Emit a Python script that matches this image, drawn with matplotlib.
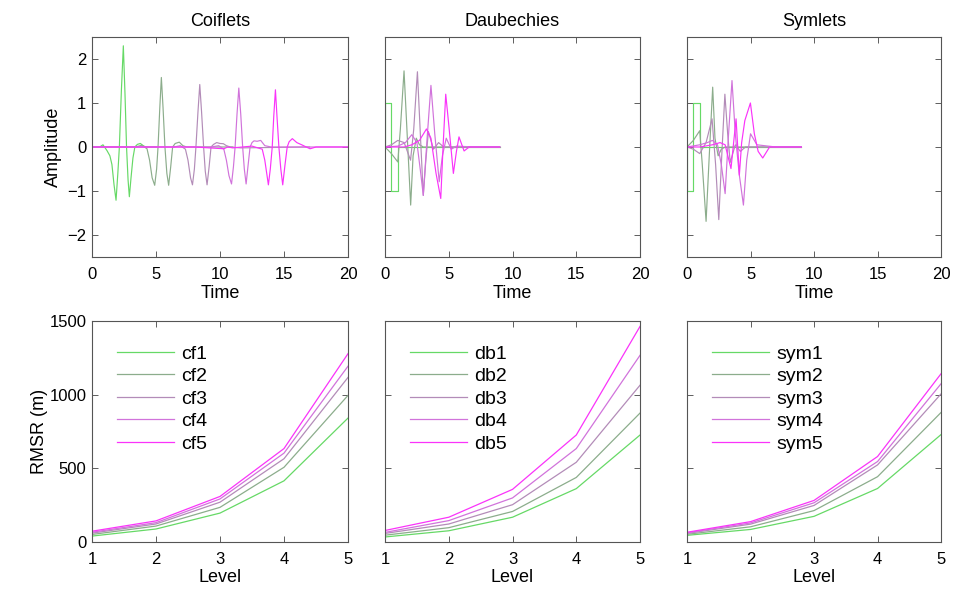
import numpy as np
import matplotlib.pyplot as plt

plt.rcParams['font.family'] = ['Liberation Sans', 'DejaVu Sans']

colors = [(0.40, 0.85, 0.40), (0.55, 0.68, 0.55), (0.70, 0.55, 0.72),
          (0.82, 0.45, 0.86), (0.98, 0.20, 0.98)]

# ---- wavelet shapes (time, amplitude) ----
coif_t = [
    [0, 0.6, 0.86, 1.17, 1.4, 1.56, 1.72, 1.88, 2.02, 2.14, 2.3, 2.45, 2.58, 2.7, 2.82, 2.92, 3.05, 3.2, 3.35, 3.55, 3.78, 4.0, 4.2, 5.0],
    [0, 3.4, 3.9, 4.3, 4.5, 4.7, 4.9, 5.05, 5.16, 5.3, 5.42, 5.55, 5.7, 5.85, 5.99, 6.15, 6.3, 6.5, 6.82, 7.1, 7.4, 11.0],
    [0, 6.4, 6.9, 7.3, 7.5, 7.7, 7.85, 8.0, 8.12, 8.28, 8.42, 8.56, 8.72, 8.85, 8.99, 9.15, 9.3, 9.5, 9.74, 10.0, 10.26, 10.5, 10.8, 11.6, 17.0],
    [0, 9.3, 9.9, 10.3, 10.5, 10.7, 10.9, 11.05, 11.18, 11.33, 11.47, 11.62, 11.77, 11.9, 12.04, 12.2, 12.35, 12.5, 12.66, 12.9, 13.18, 13.5, 14.0, 20.0],
    [0, 8.0, 10.3, 10.6, 11.0, 12.5, 13.3, 13.5, 13.65, 13.78, 13.93, 14.08, 14.2, 14.33, 14.45, 14.6, 14.75, 14.9, 15.08, 15.25, 15.4, 15.65, 16.0, 16.38, 17.03, 17.5, 20.0],
]
coif_a = [
    [0, 0, 0.05, -0.08, -0.2, -0.4, -0.85, -1.21, -0.6, 0, 1.3, 2.3, 1.2, 0, -0.75, -1.13, -0.7, -0.25, 0, 0.06, 0.08, 0.03, 0, 0],
    [0, 0, 0.04, -0.04, -0.3, -0.7, -0.87, -0.5, 0, 0.9, 1.58, 0.9, 0, -0.6, -0.87, -0.45, 0, 0.08, 0.11, 0.03, 0, 0],
    [0, 0, 0.03, -0.05, -0.3, -0.7, -0.86, -0.5, 0, 0.8, 1.42, 0.8, 0, -0.55, -0.86, -0.45, 0, 0.06, 0.1, 0.08, 0.075, 0.03, 0, -0.02, 0],
    [0, 0, 0.03, -0.05, -0.3, -0.65, -0.84, -0.45, 0, 0.75, 1.34, 0.75, 0, -0.5, -0.84, -0.4, 0, 0.1, 0.14, 0.13, 0.15, 0.03, 0, 0],
    [0, 0, -0.04, 0, -0.02, 0.02, -0.05, -0.3, -0.6, -0.86, -0.5, 0, 0.7, 1.3, 0.7, 0, -0.5, -0.86, -0.4, 0, 0.12, 0.19, 0.1, 0.05, -0.04, 0, 0],
]

db_t = [
    [0, 0, 0.5, 0.5, 1.0, 1.0, 9.0],
    [0, 0.5, 1.0, 1.2, 1.49, 1.75, 2.01, 2.2, 2.45, 2.7, 3.0, 9.0],
    [0, 0.5, 1.0, 1.5, 2.0, 2.25, 2.54, 2.8, 3.0, 3.2, 3.4, 3.8, 4.2, 4.6, 5.0, 9.0],
    [0, 1.0, 1.6, 2.1, 2.5, 2.8, 3.0, 3.3, 3.6, 3.9, 4.25, 4.5, 4.8, 5.2, 5.6, 7.0, 9.0],
    [0, 1.5, 2.1, 2.7, 3.25, 3.6, 4.0, 4.37, 4.55, 4.76, 5.0, 5.36, 5.6, 5.8, 6.2, 6.6, 9.0],
]
db_a = [
    [0, 1, 1, -1, -1, 0, 0],
    [0, -0.15, -0.34, 0.4, 1.73, 0.2, -1.32, -0.2, 0.2, 0.05, 0, 0],
    [0, 0.05, 0.15, 0.1, -0.3, 0.4, 1.71, 0.1, -1.1, -0.3, 0.35, -0.05, 0.1, 0, 0, 0],
    [0, 0.02, 0.1, 0.28, 0.1, -0.6, -1.1, 0.2, 1.4, 0.3, -0.79, -0.2, 0.2, -0.05, 0.02, 0, 0],
    [0, 0, 0.05, 0.15, 0.41, 0.2, -0.6, -1.17, 0.0, 1.2, 0.5, -0.6, -0.1, 0.23, -0.09, 0, 0],
]

sym_t = [
    [0, 0, 0.5, 0.5, 1.0, 1.0, 9.0],
    [0, 0.5, 1.0, 1.2, 1.5, 1.75, 2.02, 2.2, 2.45, 2.7, 3.0, 9.0],
    [0, 0.5, 1.0, 1.5, 1.97, 2.25, 2.5, 2.75, 2.98, 3.2, 3.4, 3.8, 4.2, 4.6, 5.0, 9.0],
    [0, 1.0, 1.6, 2.0, 2.4, 2.7, 3.0, 3.25, 3.54, 3.8, 4.1, 4.44, 4.7, 5.0, 5.5, 7.0, 9.0],
    [0, 1.0, 2.0, 2.6, 3.0, 3.46, 3.86, 4.12, 4.3, 4.55, 4.99, 5.3, 5.6, 5.96, 6.5, 9.0],
]
sym_a = [
    [0, -1, -1, 1, 1, 0, 0],
    [0, 0.15, 0.37, -0.4, -1.69, -0.2, 1.36, 0.2, -0.2, -0.05, 0, 0],
    [0, -0.05, -0.15, 0.1, 0.64, -0.4, -1.65, -0.1, 1.2, 0.3, -0.35, 0.05, -0.1, 0, 0, 0],
    [0, 0.05, 0.1, 0.15, 0.05, -0.4, -1.06, 0.2, 1.51, 0.3, -0.6, -1.32, -0.3, 0.3, 0.05, 0, 0],
    [0, 0, 0.05, 0.1, 0.05, -0.49, 0.64, -0.64, 0.1, 0.6, 1.0, 0.3, -0.1, -0.25, 0, 0],
]

# ---- RMSR vs level ----
levels = [1, 2, 3, 4, 5]
cf_rmsr = [[40, 88, 196, 415, 841],
           [51, 108, 235, 507, 995],
           [60, 122, 270, 565, 1117],
           [66, 131, 292, 603, 1193],
           [73, 143, 309, 634, 1278]]
db_rmsr = [[34, 76, 168, 362, 726],
           [46, 97, 207, 438, 875],
           [58, 122, 253, 541, 1064],
           [65, 145, 299, 634, 1267],
           [78, 168, 357, 726, 1463]]
sym_rmsr = [[45, 85, 174, 363, 729],
            [52, 103, 213, 443, 879],
            [58, 121, 248, 523, 1005],
            [62, 129, 266, 546, 1074],
            [66, 138, 282, 580, 1142]]

titles = ['Coiflets', 'Daubechies', 'Symlets']
names = [['cf1', 'cf2', 'cf3', 'cf4', 'cf5'],
         ['db1', 'db2', 'db3', 'db4', 'db5'],
         ['sym1', 'sym2', 'sym3', 'sym4', 'sym5']]

fig = plt.figure(figsize=(9.59, 5.90), dpi=100)
lefts = [0.0959, 0.4015, 0.7164]
widths = [0.267, 0.2659, 0.2649]

def style(ax):
    ax.tick_params(direction='in', top=True, right=True, labelsize=12,
                   length=4, width=0.6, color='#444444')
    ax.tick_params(axis='x', pad=7)
    ax.tick_params(axis='y', pad=4)
    for s in ax.spines.values():
        s.set_color('#555555')
        s.set_linewidth(0.8)

wave_t = [coif_t, db_t, sym_t]
wave_a = [coif_a, db_a, sym_a]
rmsr = [cf_rmsr, db_rmsr, sym_rmsr]

for i in range(3):
    ax = fig.add_axes([lefts[i], 0.5644, widths[i], 0.3729])
    for k in range(5):
        ax.plot(wave_t[i][k], wave_a[i][k], color=colors[k], lw=0.85)
    ax.set_xlim(0, 20)
    ax.set_ylim(-2.5, 2.5)
    ax.set_xticks([0, 5, 10, 15, 20])
    ax.set_yticks([-2, -1, 0, 1, 2])
    ax.set_title(titles[i], fontsize=13, pad=8)
    ax.set_xlabel('Time', fontsize=13, labelpad=2)
    style(ax)
    if i == 0:
        ax.set_ylabel('Amplitude', fontsize=13, labelpad=4)
    else:
        ax.set_yticklabels([])

    ax2 = fig.add_axes([lefts[i], 0.0814, widths[i], 0.3746])
    for k in range(5):
        ax2.plot(levels, rmsr[i][k], color=colors[k], lw=0.9, label=names[i][k])
    ax2.set_xlim(1, 5)
    ax2.set_ylim(0, 1500)
    ax2.set_xticks(levels)
    ax2.set_yticks([0, 500, 1000, 1500])
    ax2.set_xlabel('Level', fontsize=13, labelpad=2)
    style(ax2)
    if i == 0:
        ax2.set_ylabel('RMSR (m)', fontsize=13, labelpad=1)
    else:
        ax2.set_yticklabels([])
    ax2.legend(loc='upper left', bbox_to_anchor=(0.03, 0.97), frameon=False,
               fontsize=14, handlelength=2.9, handletextpad=0.4, labelspacing=0.25)

fig.savefig('out.png', dpi=100)
